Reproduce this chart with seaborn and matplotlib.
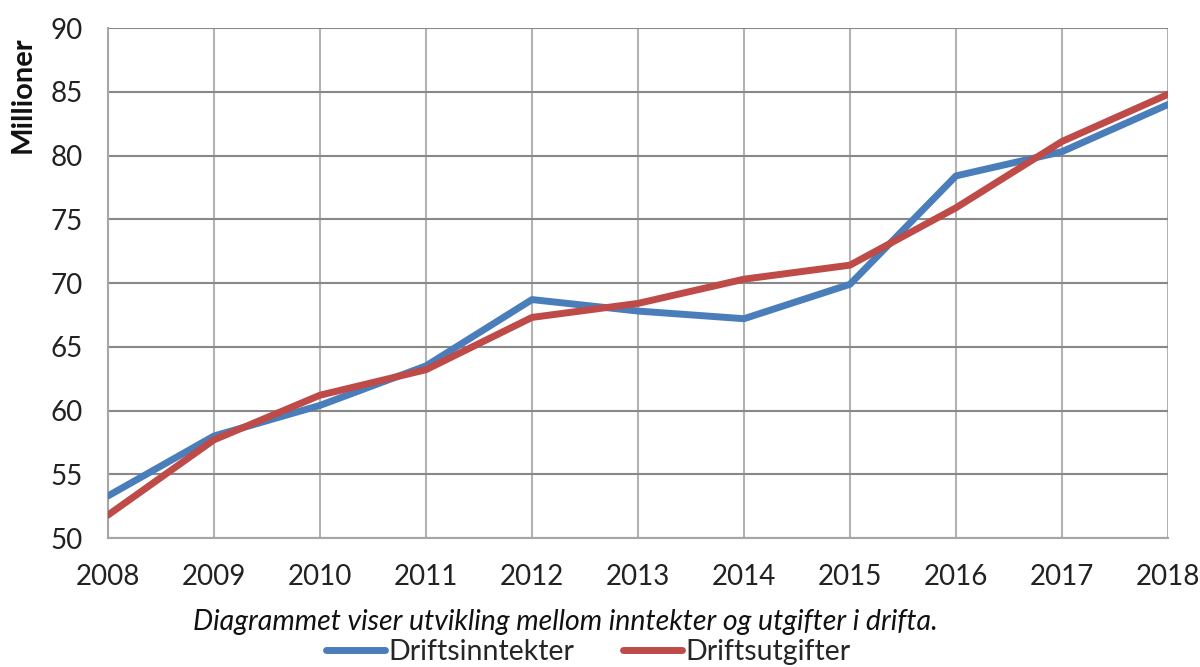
import matplotlib
matplotlib.use("Agg")
import matplotlib.pyplot as plt
import seaborn as sns
import pandas as pd
from matplotlib.lines import Line2D

years = [2008, 2009, 2010, 2011, 2012, 2013, 2014, 2015, 2016, 2017, 2018]
inntekter = [53.3, 58.0, 60.4, 63.5, 68.7, 67.8, 67.2, 69.9, 78.4, 80.3, 84.0]
utgifter = [51.8, 57.7, 61.2, 63.2, 67.3, 68.4, 70.3, 71.4, 75.9, 81.1, 84.8]
series_names = ["Driftsinntekter", "Driftsutgifter"]
colors = ["#4a7ebb", "#be4b48"]
y_ticks = [50, 55, 60, 65, 70, 75, 80, 85, 90]

df = pd.DataFrame({
    "År": years * 2,
    "Verdi": inntekter + utgifter,
    "Serie": [series_names[0]] * len(years) + [series_names[1]] * len(years),
})

sns.set_theme(style="white")
plt.rcParams["font.family"] = ["Lato", "DejaVu Sans"]

fig = plt.figure(figsize=(12, 6.67), dpi=100)
ax = fig.add_axes([0.09, 0.1934, 0.8833, 0.7646])

sns.lineplot(data=df, x="År", y="Verdi", hue="Serie", palette=colors,
             linewidth=5, ax=ax, legend=False, zorder=3)

ax.set_xlim(years[0], years[-1])
ax.set_ylim(y_ticks[0], y_ticks[-1])
ax.set_xticks(years)
ax.set_yticks(y_ticks)
ax.tick_params(axis="both", labelsize=20, colors="#222222", length=0)
ax.tick_params(axis="x", pad=19)
ax.tick_params(axis="y", pad=18)
ax.set_xlabel("")
ax.set_ylabel("")

ax.yaxis.grid(True, color="#888888", linewidth=1.5)
ax.xaxis.grid(True, color="#b3b3b3", linewidth=1.5)
ax.set_axisbelow(True)
for s in ["top", "right"]:
    ax.spines[s].set_visible(False)
for s in ["left", "bottom"]:
    ax.spines[s].set_color("#a6a6a6")
    ax.spines[s].set_linewidth(1.5)

fig.text(0.019, 0.858, "Millioner", rotation=90, fontsize=21, fontweight="bold",
         ha="center", va="center", color="#111111")

fig.text(0.471, 0.068, "Diagrammet viser utvikling mellom inntekter og utgifter i drifta.",
         fontsize=20.5, style="italic", ha="center", va="center", color="#111111")

handles = [Line2D([0], [0], color=c, linewidth=5, solid_capstyle="round") for c in colors]
fig.legend(handles, series_names, loc="center", bbox_to_anchor=(0.49, 0.022),
           ncol=2, frameon=False, fontsize=20.5, handlelength=2.1, handletextpad=0.1,
           columnspacing=1.7)

fig.savefig("out.png", dpi=100)
